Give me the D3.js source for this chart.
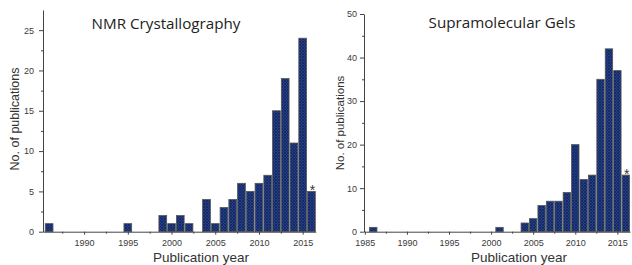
<!DOCTYPE html>
<html>
<head>
<meta charset="utf-8">
<script src="https://cdn.jsdelivr.net/npm/d3@7"></script>
<style>
  body { margin: 0; background: #fff; }
  svg { display: block; }
  .tick text { font-family: "Liberation Sans", Arial, sans-serif; font-size: 9px; fill: #3a3a3a; }
  .axis path, .axis line { stroke: #444; }
  .axis-title { font-family: "Liberation Sans", Arial, sans-serif; fill: #333; }
  .chart-title { font-family: "Open Sans", sans-serif; fill: #222; }
</style>
</head>
<body>
<svg width="632" height="265"></svg>
<script>
// left panel: NMR crystallography
const nmrYears  = [1986, 1995, 1999, 2000, 2001, 2002, 2004, 2005, 2006, 2007, 2008, 2009, 2010, 2011, 2012, 2013, 2014, 2015, 2016];
const nmrCounts = [1,    1,    2,    1,    2,    1,    4,    1,    3,    4,    6,    5,    6,    7,    15,   19,   11,   24,   5];

// right panel: supramolecular gels
const gelYears  = [1986, 2001, 2004, 2005, 2006, 2007, 2008, 2009, 2010, 2011, 2012, 2013, 2014, 2015, 2016];
const gelCounts = [1,    1,    2,    3,    6,    7,    7,    9,    20,   12,   13,   35,   42,   37,   13];

const nmrXTicks = [1990, 1995, 2000, 2005, 2010, 2015];
const gelXTicks = [1985, 1990, 1995, 2000, 2005, 2010, 2015];
const nmrYTicks = [0, 5, 10, 15, 20, 25];
const gelYTicks = [0, 10, 20, 30, 40, 50];

const svg = d3.select('svg');

// crosshatch fill like the original
const defs = svg.append('defs');
const pat = defs.append('pattern')
    .attr('id', 'hatch')
    .attr('width', 3)
    .attr('height', 3)
    .attr('patternUnits', 'userSpaceOnUse');
pat.append('rect').attr('width', 3).attr('height', 3).attr('fill', '#22408a');
pat.append('path')
    .attr('d', 'M0,0L3,3M3,0L0,3')
    .attr('stroke', '#14255a')
    .attr('stroke-width', 0.8);

function drawPanel(opts) {
    var x = d3.scaleLinear().domain(opts.xDomain).range(opts.xRange);
    var y = d3.scaleLinear().domain(opts.yDomain).range([opts.bottom, opts.top]);

    var g = svg.append('g');

    // bars
    g.selectAll('rect.bar')
        .data(opts.years.map(function(yr, i) { return { year: yr, count: opts.counts[i] }; }))
        .enter().append('rect')
        .attr('class', 'bar')
        .attr('x', function(d) { return x(d.year - 0.5) + 0.5; })
        .attr('width', function(d) { return x(d.year + 0.5) - x(d.year - 0.5) - 1; })
        .attr('y', function(d) { return y(d.count); })
        .attr('height', function(d) { return y(0) - y(d.count); })
        .attr('fill', 'url(#hatch)')
        .attr('stroke', '#555')
        .attr('stroke-width', 0.8);

    // minor ticks
    var xMinor = d3.range(opts.xMinorStart, opts.xDomain[1], 5);
    g.append('g')
        .attr('class', 'axis')
        .attr('transform', 'translate(0,' + opts.bottom + ')')
        .call(d3.axisBottom(x).tickValues(xMinor).tickSize(2).tickFormat(''))
        .select('.domain').remove();

    var yMinor = d3.range(opts.yMinorStep, opts.yDomain[1], opts.yMinorStep * 2);
    g.append('g')
        .attr('class', 'axis')
        .attr('transform', 'translate(' + opts.xRange[0] + ',0)')
        .call(d3.axisLeft(y).tickValues(yMinor).tickSize(2).tickFormat(''))
        .select('.domain').remove();

    // x axis
    g.append('g')
        .attr('class', 'axis')
        .attr('transform', 'translate(0,' + opts.bottom + ')')
        .call(d3.axisBottom(x).tickValues(opts.xTicks).tickSize(3).tickPadding(5).tickSizeOuter(0).tickFormat(d3.format('d')));

    // y axis
    g.append('g')
        .attr('class', 'axis')
        .attr('transform', 'translate(' + opts.xRange[0] + ',0)')
        .call(d3.axisLeft(y).tickValues(opts.yTicks).tickSize(4).tickPadding(opts.yPad).tickSizeOuter(0));

    // asterisk on last (incomplete) year
    var last = opts.years.length - 1;
    g.append('text')
        .attr('x', x(opts.years[last]) + 1)
        .attr('y', y(opts.counts[last]) + 4)
        .attr('text-anchor', 'middle')
        .attr('font-family', 'Liberation Sans, Arial, sans-serif')
        .attr('font-size', 14)
        .attr('fill', '#333')
        .text('*');

    // titles
    g.append('text')
        .attr('class', 'chart-title')
        .attr('x', opts.titleX)
        .attr('y', opts.titleY)
        .attr('text-anchor', 'middle')
        .attr('font-size', 15.2)
        .text(opts.title);

    g.append('text')
        .attr('class', 'axis-title')
        .attr('x', opts.xLabelX)
        .attr('y', 261.5)
        .attr('text-anchor', 'middle')
        .attr('font-size', 13.5)
        .text('Publication year');

    g.append('text')
        .attr('class', 'axis-title')
        .attr('transform', 'translate(' + opts.yLabelX + ',' + opts.yLabelY + ') rotate(-90)')
        .attr('text-anchor', 'middle')
        .attr('font-size', opts.yLabelSize)
        .text('No. of publications');
}

drawPanel({
    years: nmrYears, counts: nmrCounts,
    xDomain: [1985.3, 2016.5], xRange: [43, 315.8],
    yDomain: [0, 27.5], top: 10, bottom: 231.7,
    xTicks: nmrXTicks, yTicks: nmrYTicks,
    xMinorStart: 1987.5, yMinorStep: 2.5, yPad: 5,
    title: 'NMR Crystallography', titleX: 166, titleY: 29,
    xLabelX: 201, yLabelX: 19, yLabelY: 119, yLabelSize: 12.5
});

drawPanel({
    years: gelYears, counts: gelCounts,
    xDomain: [1984.9, 2016.5], xRange: [364, 630],
    yDomain: [0, 50], top: 14, bottom: 231.7,
    xTicks: gelXTicks, yTicks: gelYTicks,
    xMinorStart: 1987.5, yMinorStep: 5, yPad: 3,
    title: 'Supramolecular Gels', titleX: 502, titleY: 28,
    xLabelX: 519, yLabelX: 344, yLabelY: 123, yLabelSize: 11.5
});
</script>
</body>
</html>
